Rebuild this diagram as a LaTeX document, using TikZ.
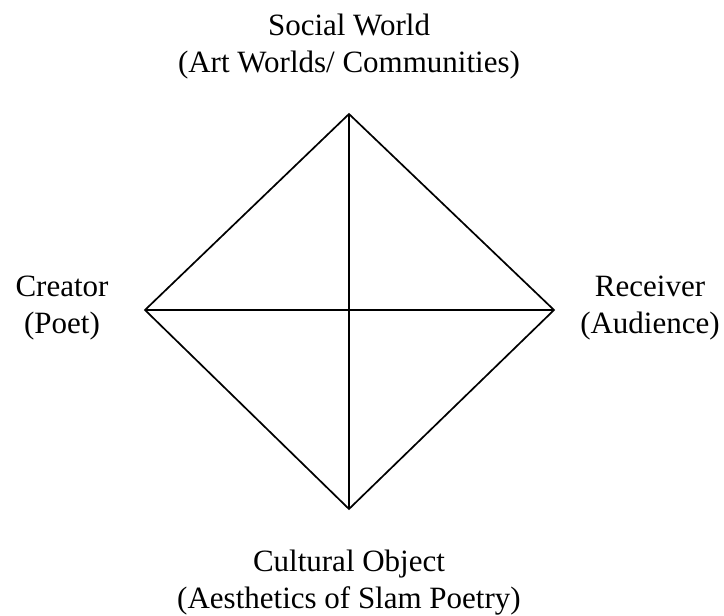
\documentclass[tikz,border=0pt]{standalone}
\usepackage{fontspec}
\setmainfont{Liberation Serif}
\begin{document}
\begin{tikzpicture}[x=1pt,y=-1pt,
  edge/.style={line width=1.7pt, line join=miter},
  lbl/.style={align=center, inner sep=0pt, anchor=base, font=\fontsize{31}{36.5}\selectfont}]
\useasboundingbox (0,0) rectangle (724,616);
\coordinate (T) at (349,114);
\coordinate (B) at (349,509);
\coordinate (L) at (145,310);
\coordinate (R) at (554,310);
\draw[edge] (T) -- (R) -- (B) -- (L) -- cycle;
\draw[edge] (T) -- (B);
\draw[edge] (L) -- (R);
\node[lbl] (social) at (349,72) {Social World\\(Art Worlds/ Communities)};
\node[lbl] (creator) at (62,333) {Creator\\(Poet)};
\node[lbl] (receiver) at (650,333) {Receiver\\(Audience)};
\node[lbl] (cultural) at (349,608) {Cultural Object\\(Aesthetics of Slam Poetry)};
\end{tikzpicture}
\end{document}
